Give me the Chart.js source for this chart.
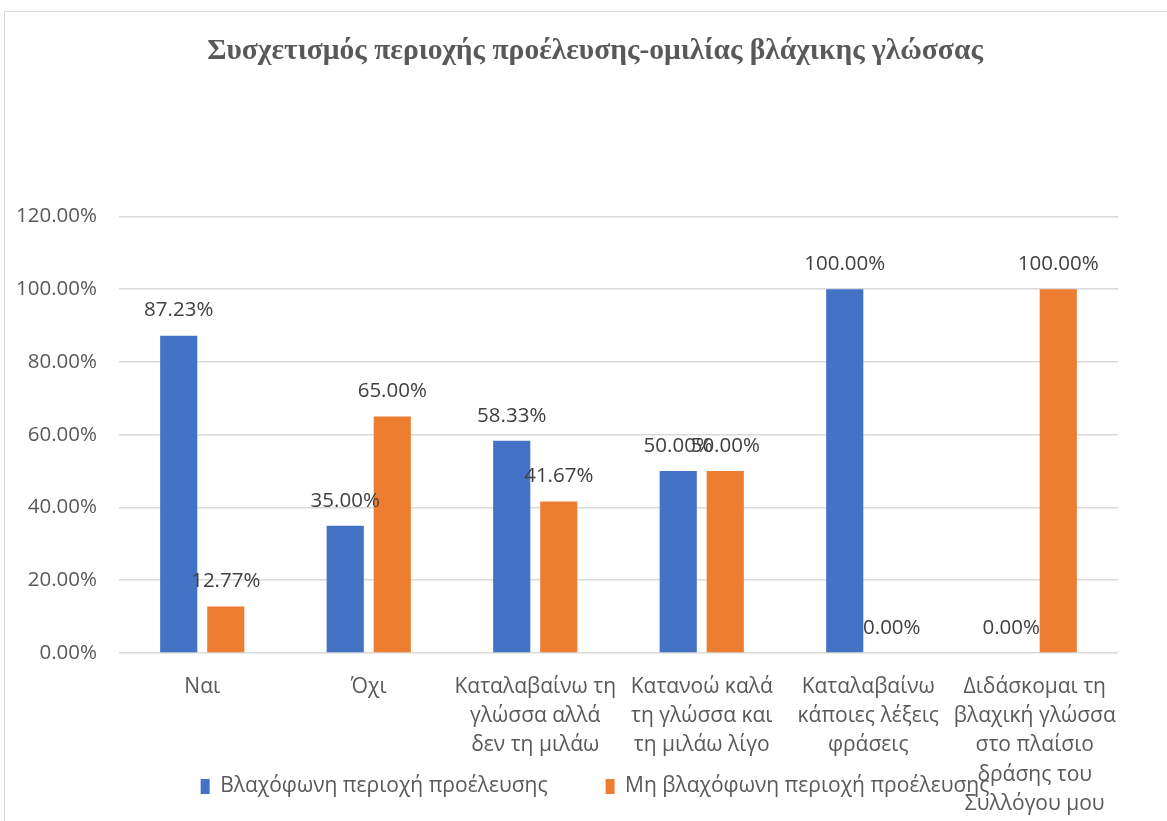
<!DOCTYPE html>
<html>
<head>
<meta charset="utf-8">
<script src="https://cdn.jsdelivr.net/npm/chart.js@4.4.1/dist/chart.umd.min.js"></script>
<style>
  html, body { margin: 0; padding: 0; background: #fff; overflow: hidden; }
  #frame { position: absolute; left: 4px; top: 11px; width: 1250px; height: 900px; border: 1px solid #d9d9d9; }
  #chart { position: absolute; left: 0; top: 0; }
</style>
</head>
<body>
<div id="frame"></div>
<canvas id="chart" width="1190" height="821"></canvas>
<script>
const categories = [
  "Ναι",
  "Όχι",
  ["Καταλαβαίνω τη", "γλώσσα αλλά", "δεν τη μιλάω"],
  ["Κατανοώ καλά", "τη γλώσσα και", "τη μιλάω λίγο"],
  ["Καταλαβαίνω", "κάποιες λέξεις", "φράσεις"],
  ["Διδάσκομαι τη", "βλαχική γλώσσα", "στο πλαίσιο", "δράσης του", "Συλλόγου μου"]
];
const seriesNames = ["Βλαχόφωνη περιοχή προέλευσης", "Μη βλαχόφωνη περιοχή προέλευσης"];
const vlachSpeaking = [87.23, 35.00, 58.33, 50.00, 100.00, 0.00];
const nonVlachSpeaking = [12.77, 65.00, 41.67, 50.00, 0.00, 100.00];
const yTicks = [0, 20, 40, 60, 80, 100, 120];

const textColor = "#595959";
const font = '"Open Sans", "DejaVu Sans", sans-serif';

// value labels above every bar
const barLabels = {
  id: "barLabels",
  afterDatasetsDraw(chart) {
    const ctx = chart.ctx;
    ctx.save();
    ctx.font = "20.5px " + font;
    ctx.fillStyle = "#404040";
    ctx.textAlign = "center";
    ctx.textBaseline = "middle";
    chart.data.datasets.forEach((ds, i) => {
      chart.getDatasetMeta(i).data.forEach((bar, j) => {
        ctx.fillText(ds.data[j].toFixed(2) + "%", bar.x, bar.y - 25);
      });
    });
    ctx.restore();
  }
};

// the category labels run down over the legend, so let them draw below the axis box
const longTicks = {
  id: "longTicks",
  afterLayout(chart) {
    chart.scales.x.bottom = chart.height;
  }
};

new Chart(document.getElementById("chart"), {
  type: "bar",
  plugins: [barLabels, longTicks],
  data: {
    labels: categories,
    datasets: [
      { label: seriesNames[0], data: vlachSpeaking, backgroundColor: "#4472C4" },
      { label: seriesNames[1], data: nonVlachSpeaking, backgroundColor: "#ED7D31" }
    ]
  },
  options: {
    responsive: false,
    animation: false,
    categoryPercentage: 0.565,
    barPercentage: 0.79,
    layout: { padding: { bottom: 14 } },
    plugins: {
      tooltip: { enabled: false },
      title: {
        display: true,
        text: "Συσχετισμός περιοχής προέλευσης-ομιλίας βλάχικης γλώσσας",
        color: textColor,
        font: { family: '"Liberation Serif", serif', size: 29.5, weight: "bold" },
        padding: { top: 34, bottom: 147 }
      },
      legend: {
        position: "bottom",
        labels: {
          color: textColor,
          font: { family: font, size: 21 },
          boxWidth: 9,
          boxHeight: 15,
          padding: 58
        }
      }
    },
    scales: {
      x: {
        grid: { display: false },
        border: { display: false },
        ticks: {
          color: textColor,
          font: { family: font, size: 21, lineHeight: 1.4 },
          autoSkip: false,
          maxRotation: 0,
          padding: 11
        },
        afterFit(scale) { scale.height = 65; }
      },
      y: {
        min: 0,
        max: 120,
        afterBuildTicks(scale) { scale.ticks = yTicks.map(v => ({ value: v })); },
        grid: { color: "#d9d9d9", lineWidth: 1.5, drawTicks: false },
        border: { display: false },
        ticks: {
          color: textColor,
          font: { family: font, size: 20.5 },
          padding: 22,
          callback: v => v.toFixed(2) + "%"
        },
        afterFit(scale) { scale.width = 119; }
      },
      // empty right-hand axis, keeps space to the right of the plot
      spacer: {
        position: "right",
        grid: { display: false },
        border: { display: false },
        ticks: { display: false },
        afterFit(scale) { scale.width = 72; }
      }
    }
  }
});
</script>
</body>
</html>
